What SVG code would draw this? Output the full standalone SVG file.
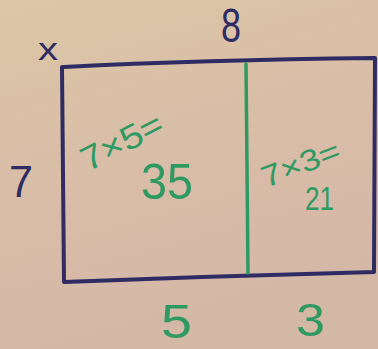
<svg xmlns="http://www.w3.org/2000/svg" width="378" height="349" viewBox="0 0 378 349">
<defs>
<linearGradient id="bg" x1="0" y1="0" x2="0.3" y2="1">
<stop offset="0" stop-color="#dcc6a5"/>
<stop offset="0.6" stop-color="#d8bca8"/>
<stop offset="1" stop-color="#d4b8a6"/>
</linearGradient>
</defs>
<style>
.b{fill:none;stroke:#2f2c63;stroke-width:4;stroke-linecap:round;stroke-linejoin:round}
.g{fill:none;stroke:#2e9a62;stroke-width:3.5;stroke-linecap:round}
.tb{font-family:"Liberation Sans",sans-serif;fill:#2f2c63}
.tg{font-family:"Liberation Sans",sans-serif;fill:#2e9a62}
</style>
<rect width="378" height="349" fill="url(#bg)"/>
<path class="b" d="M64,67 Q200,60 375,58 L374,272 Q220,276 64,282 L62,67"/>
<path class="g" d="M246,64 Q247,170 248,273"/>
<text class="tb" x="221" y="42" font-size="48" textLength="20" lengthAdjust="spacingAndGlyphs">8</text>
<text class="tb" x="38" y="60" font-size="32" textLength="20" lengthAdjust="spacingAndGlyphs">x</text>
<text class="tb" x="9" y="197" font-size="44" textLength="24" lengthAdjust="spacingAndGlyphs">7</text>
<text class="tg" x="0" y="0" font-size="34" textLength="88" lengthAdjust="spacingAndGlyphs" transform="translate(88,172) rotate(-27)">7×5=</text>
<text class="tg" x="141" y="199" font-size="50" textLength="52" lengthAdjust="spacingAndGlyphs">35</text>
<text class="tg" x="0" y="0" font-size="30" textLength="82" lengthAdjust="spacingAndGlyphs" transform="translate(266,188) rotate(-21)">7×3=</text>
<text class="tg" x="305" y="210" font-size="33" textLength="29" lengthAdjust="spacingAndGlyphs">21</text>
<text class="tg" x="161" y="338" font-size="48" textLength="31" lengthAdjust="spacingAndGlyphs">5</text>
<text class="tg" x="296" y="336" font-size="46" textLength="29" lengthAdjust="spacingAndGlyphs">3</text>
</svg>
